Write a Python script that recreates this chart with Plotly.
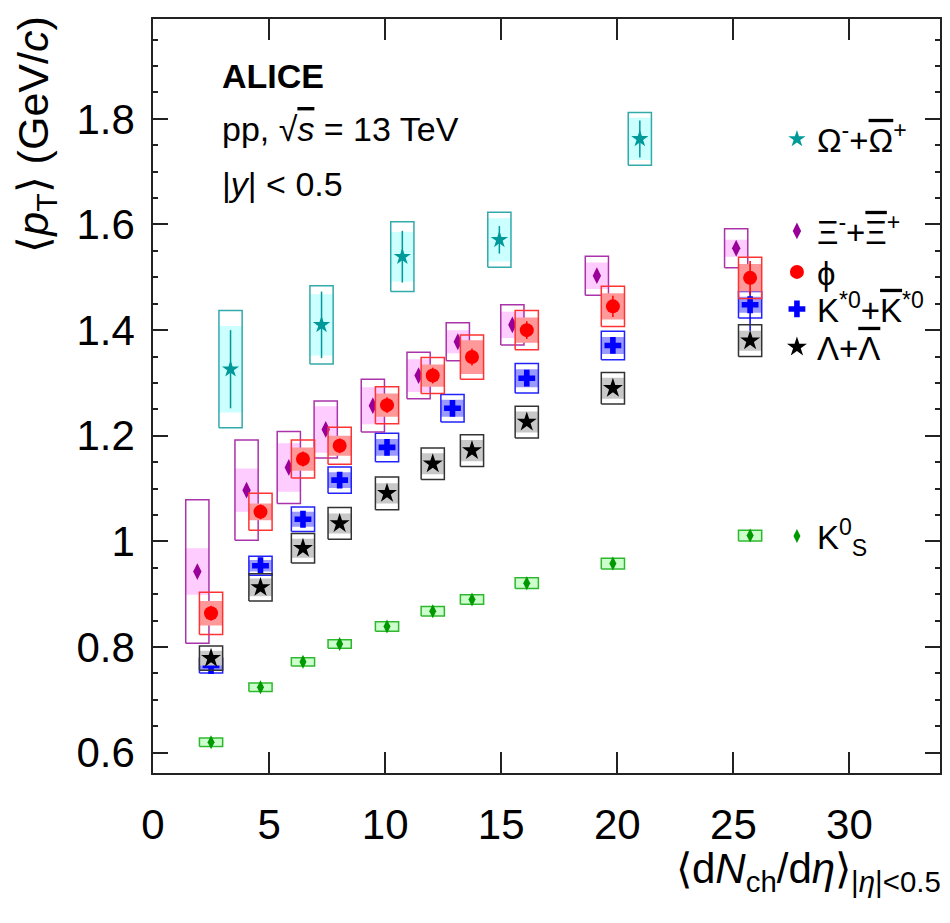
import plotly.graph_objects as go

# multiplicity classes <dNch/deta>
x_k0s = [2.50, 4.63, 6.46, 8.04, 10.08, 12.05, 13.74, 16.10, 19.81, 25.72]
y_k0s = [0.620, 0.724, 0.772, 0.806, 0.839, 0.868, 0.890, 0.921, 0.958, 1.011]
stat_k0s = [0.004] * 10
sys_k0s = [0.008, 0.008, 0.008, 0.008, 0.009, 0.009, 0.009, 0.010, 0.010, 0.010]
sysu_k0s = [0.007, 0.007, 0.007, 0.007, 0.008, 0.008, 0.008, 0.009, 0.009, 0.009]

x_kstar = [2.50, 4.63, 6.46, 8.04, 10.08, 12.90, 16.10, 19.81, 25.72]
y_kstar = [0.765, 0.954, 1.042, 1.116, 1.178, 1.252, 1.309, 1.371, 1.448]
stat_kstar = [0.006, 0.006, 0.007, 0.007, 0.008, 0.008, 0.009, 0.012, 0.064]
sys_kstar = [0.014, 0.018, 0.023, 0.025, 0.027, 0.026, 0.028, 0.027, 0.025]
sysu_kstar = [0.009, 0.011, 0.014, 0.015, 0.016, 0.016, 0.017, 0.016, 0.015]

x_lam = [2.50, 4.63, 6.46, 8.04, 10.08, 12.05, 13.74, 16.10, 19.81, 25.72]
y_lam = [0.779, 0.913, 0.987, 1.034, 1.091, 1.147, 1.172, 1.226, 1.290, 1.380]
stat_lam = [0.004] * 10
sys_lam = [0.023, 0.026, 0.028, 0.030, 0.031, 0.030, 0.030, 0.030, 0.030, 0.030]
sysu_lam = [0.014, 0.017, 0.018, 0.019, 0.019, 0.020, 0.020, 0.020, 0.020, 0.019]

x_xi = [1.91, 4.03, 5.85, 7.44, 9.47, 11.44, 13.13, 15.48, 19.12, 25.12]
y_xi = [0.943, 1.097, 1.140, 1.212, 1.257, 1.314, 1.378, 1.410, 1.503, 1.555]
stat_xi = [0.008, 0.007, 0.007, 0.007, 0.007, 0.007, 0.007, 0.007, 0.008, 0.010]
sys_xi = [0.136, 0.095, 0.068, 0.054, 0.050, 0.044, 0.036, 0.038, 0.037, 0.037]
sysu_xi = [0.044, 0.041, 0.046, 0.044, 0.035, 0.031, 0.022, 0.025, 0.025, 0.016]

x_phi = [2.50, 4.63, 6.46, 8.04, 10.08, 12.05, 13.74, 16.10, 19.81, 25.72]
y_phi = [0.864, 1.056, 1.156, 1.181, 1.258, 1.314, 1.349, 1.400, 1.445, 1.499]
stat_phi = [0.014, 0.014, 0.014, 0.014, 0.015, 0.015, 0.016, 0.017, 0.020, 0.032]
sys_phi = [0.040, 0.035, 0.036, 0.035, 0.035, 0.034, 0.042, 0.037, 0.038, 0.039]
sysu_phi = [0.023, 0.016, 0.022, 0.019, 0.022, 0.021, 0.032, 0.024, 0.025, 0.026]

x_om = [3.34, 7.26, 10.74, 14.92, 20.97]
y_om = [1.326, 1.410, 1.539, 1.571, 1.762]
stat_om = [0.074, 0.063, 0.049, 0.026, 0.035]
sys_om = [0.111, 0.074, 0.066, 0.052, 0.050]
sysu_om = [0.082, 0.058, 0.047, 0.041, 0.040]

FONT = "Liberation Sans, Arial, Helvetica, sans-serif"
BOX_HW = 0.5  # half width of systematic boxes in x units
OL = '<span style="text-decoration:overline">%s</span>'


def box_path(xs, ys, half):
    px, py = [], []
    for x, y, h in zip(xs, ys, half):
        px += [x - BOX_HW, x + BOX_HW, x + BOX_HW, x - BOX_HW, x - BOX_HW, None]
        py += [y - h, y - h, y + h, y + h, y - h, None]
    return px, py


species = [
    # name, x, y, stat, sys, sys_uncorr, marker, size, color, fill, edge, legend
    ("K<sup>0</sup><sub>S</sub>", x_k0s, y_k0s, stat_k0s, sys_k0s, sysu_k0s,
     "diamond-tall", 10, "#009900", "#ccffcc", "#2db82d", "legend6"),
    ("K<sup>*0</sup>+" + OL % "K" + "<sup>*0</sup>", x_kstar, y_kstar, stat_kstar,
     sys_kstar, sysu_kstar, "cross", 14, "#0000ff", "#9999ff", "#2222ff", "legend4"),
    ("\u039b+" + OL % "\u039b", x_lam, y_lam, stat_lam, sys_lam, sysu_lam,
     "star", 15, "#000000", "#c8c8c8", "#333333", "legend5"),
    ("\u039e<sup>-</sup>+" + OL % "\u039e" + "<sup>+</sup>", x_xi, y_xi, stat_xi,
     sys_xi, sysu_xi, "diamond-tall", 12, "#990099", "#ffccff", "#aa33aa", "legend2"),
    ("\u03d5", x_phi, y_phi, stat_phi, sys_phi, sysu_phi,
     "circle", 14, "#ff0000", "#ff9999", "#ff3333", "legend3"),
    ("\u03a9<sup>-</sup>+" + OL % "\u03a9" + "<sup>+</sup>", x_om, y_om, stat_om,
     sys_om, sysu_om, "star", 13, "#009999", "#ccffff", "#33aaaa", "legend"),
]

fig = go.Figure()
for name, xs, ys, st, sy, su, sym, size, col, fill, edge, leg in species:
    ix, iy = box_path(xs, ys, su)
    fig.add_trace(go.Scatter(x=ix, y=iy, mode="lines", fill="toself", fillcolor=fill,
                             line=dict(width=0), showlegend=False, hoverinfo="skip"))
    ox, oy = box_path(xs, ys, sy)
    fig.add_trace(go.Scatter(x=ox, y=oy, mode="lines", line=dict(color=edge, width=1.5),
                             showlegend=False, hoverinfo="skip"))
    fig.add_trace(go.Scatter(
        x=xs, y=ys, mode="markers", name=name, legend=leg,
        marker=dict(symbol=sym, size=size, color=col, line=dict(width=0)),
        error_y=dict(type="data", array=st, color=col, thickness=1.5, width=0),
    ))

legend_common = dict(font=dict(family=FONT, size=33, color="black"),
                     bgcolor="rgba(0,0,0,0)", borderwidth=0, xanchor="left",
                     yanchor="middle", x=0.7928, itemsizing="trace")
legend_y = {"legend": 0.8408, "legend2": 0.7188, "legend3": 0.6645,
            "legend4": 0.6154, "legend5": 0.5650, "legend6": 0.3143}

fig.update_layout(
    width=942, height=907,
    margin=dict(l=145, r=8, t=11, b=142),
    plot_bgcolor="white", paper_bgcolor="white",
    font=dict(family=FONT, color="black"),
    showlegend=True,
    xaxis=dict(range=[0, 33.9], tick0=0, dtick=5, ticks="inside", ticklen=21,
               tickwidth=1.5, tickcolor="#222", showline=True, linewidth=1.5,
               linecolor="#222", mirror="allticks", showgrid=False, zeroline=False,
               tickfont=dict(family=FONT, size=42), ticklabelstandoff=14),
    yaxis=dict(range=[0.5616, 1.989], tick0=0, dtick=0.2, ticks="inside", ticklen=15,
               tickwidth=1.5, tickcolor="#222", showline=True, linewidth=1.5,
               linecolor="#222", mirror="allticks", showgrid=False, zeroline=False,
               tickfont=dict(family=FONT, size=42), ticklabelstandoff=8,
               minor=dict(tick0=0, dtick=0.05, ticks="inside", ticklen=5,
                          tickwidth=1.5, tickcolor="#222", showgrid=False)),
    yaxis2=dict(overlaying="y", matches="y", anchor="x", side="left",
                tick0=0, dtick=0.1, ticks="inside", ticklen=9, tickwidth=1.5,
                tickcolor="#222", showticklabels=False, showline=False,
                mirror="ticks", showgrid=False, zeroline=False),
)
for key, yv in legend_y.items():
    fig.update_layout({key: dict(legend_common, y=yv)})

fig.add_annotation(text="<b>ALICE</b>", xref="paper", yref="paper", x=0.085, y=0.9244,
                   xanchor="left", yanchor="middle", showarrow=False,
                   font=dict(family=FONT, size=34))
fig.add_annotation(text="pp, \u221a" + OL % "<i>s</i>" + " = 13 TeV", xref="paper",
                   yref="paper", x=0.085, y=0.854, xanchor="left", yanchor="middle",
                   showarrow=False, font=dict(family=FONT, size=34))
fig.add_annotation(text="|<i>y</i>| &lt; 0.5", xref="paper", yref="paper",
                   x=0.085, y=0.781, xanchor="left", yanchor="middle", showarrow=False,
                   font=dict(family=FONT, size=34))
fig.add_annotation(text="\u27e8<i>p</i><sub>T</sub>\u27e9 (GeV/<i>c</i>)", xref="paper",
                   yref="paper", x=-0.148, y=0.846, textangle=-90, xanchor="center",
                   yanchor="middle", showarrow=False, font=dict(family=FONT, size=43))
fig.add_annotation(text="\u27e8d<i>N</i><sub>ch</sub>/d<i>\u03b7</i>\u27e9<sub>|<i>\u03b7</i>|&lt;0.5</sub>",
                   xref="paper", yref="paper", x=1.004, y=-0.131, xanchor="right",
                   yanchor="middle", showarrow=False, font=dict(family=FONT, size=42))

fig.write_html("out.html")
